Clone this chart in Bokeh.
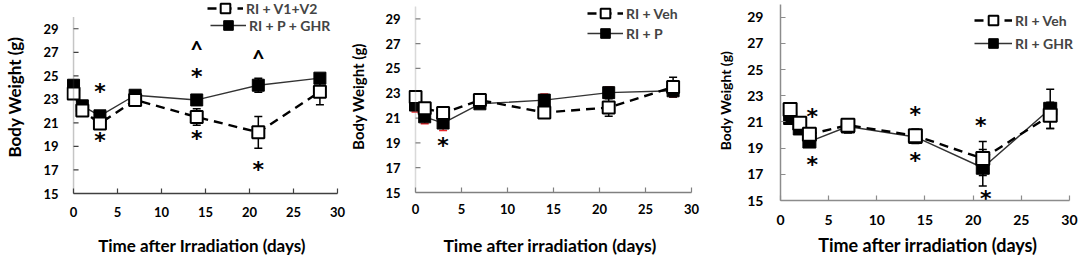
from bokeh.plotting import figure
from bokeh.models import (Range1d, FixedTicker, Whisker, TeeHead, ColumnDataSource,
                          Legend, LegendItem, BoxAnnotation)
from bokeh.layouts import row
from bokeh.embed import file_html
from bokeh.resources import INLINE
from bokeh.core.properties import value

FONT = "Lato"

# ---------------- data ----------------
x_ticks = [0, 5, 10, 15, 20, 25, 30]
y_ticks = [15, 17, 19, 21, 23, 25, 27, 29]

# Panel A: RI + V1+V2 vs RI + P + GHR
a_days = [0, 1, 3, 7, 14, 21, 28]
a_veh = [23.5, 22.05, 20.95, 22.95, 21.5, 20.2, 23.65]
a_veh_err = [0.3, 0.3, 0.3, 0.3, 0.7, 1.35, 1.1]
a_trt = [24.2, 22.45, 21.6, 23.35, 22.95, 24.2, 24.8]
a_trt_err = [0.3, 0.3, 0.3, 0.3, 0.3, 0.6, 0.2]
a_sig_x = [3, 3, 14, 14, 14, 21, 21]
a_sig_y = [23.7, 19.5, 27.2, 24.9, 19.7, 26.5, 17.0]
a_sig_t = ["*", "*", "^", "*", "*", "^", "*"]

# Panel B: RI + Veh vs RI + P
b_days = [0, 1, 3, 7, 14, 21, 28]
b_veh = [22.7, 21.8, 21.4, 22.45, 21.45, 21.85, 23.5]
b_veh_err = [0.3, 0.3, 0.3, 0.25, 0.3, 0.7, 0.8]
b_trt = [22.05, 21.1, 20.6, 22.15, 22.45, 23.05, 23.2]
b_trt_err = [0.55, 0.55, 0.6, 0.35, 0.5, 0.45, 0.5]
b_sig_x = [3]
b_sig_y = [18.8]
b_sig_t = ["*"]

# Panel C: RI + Veh vs RI + GHR
c_days = [1, 2, 3, 7, 14, 21, 28]
c_veh = [21.95, 20.9, 20.05, 20.75, 19.95, 18.2, 21.5]
c_veh_err = [0.4, 0.35, 0.3, 0.5, 0.5, 1.3, 1.0]
c_trt = [21.3, 20.5, 19.5, 20.65, 19.85, 17.5, 22.0]
c_trt_err = [0.3, 0.3, 0.3, 0.5, 0.5, 1.4, 1.5]
c_sig_x = [3.3, 3.3, 14, 14, 20.8, 21.3]
c_sig_y = [21.4, 17.75, 21.6, 18.05, 20.7, 15.15]
c_sig_t = ["*", "*", "*", "*", "*", "*"]


def style_axis(ax, cfg):
    ax.axis_line_color = cfg["axis_color"]
    ax.axis_line_width = 1.5
    ax.major_tick_line_color = cfg["axis_color"]
    ax.major_tick_line_width = 1.2
    ax.major_tick_in = 5
    ax.major_tick_out = 0
    ax.minor_tick_line_color = None
    ax.major_label_text_font = FONT
    ax.major_label_text_font_style = "bold"
    ax.major_label_text_color = "black"
    ax.major_label_text_font_size = cfg["tick_fs"]
    ax.axis_label_text_font = FONT
    ax.axis_label_text_font_style = "bold"
    ax.axis_label_text_color = "black"


def make_panel(cfg):
    p = figure(width=cfg["width"], height=258,
               x_range=Range1d(cfg["xleft"], cfg["xright"]),
               y_range=Range1d(15, cfg["ytop"]),
               output_backend="svg", toolbar_location=None,
               min_border_left=cfg["bl"], min_border_right=cfg["br"],
               min_border_top=0, min_border_bottom=cfg["bb"])
    p.frame_align = False
    p.outline_line_color = None
    p.xgrid.visible = False
    p.ygrid.visible = False
    p.background_fill_color = "white"
    p.border_fill_color = "white"

    style_axis(p.xaxis[0], cfg)
    style_axis(p.yaxis[0], cfg)
    p.yaxis.bounds = (15, 30)
    p.xaxis.bounds = (0, 30)
    p.xaxis.ticker = FixedTicker(ticks=x_ticks)
    p.yaxis.ticker = FixedTicker(ticks=y_ticks)
    p.xaxis.axis_label = cfg["xlabel"]
    p.xaxis.axis_label_text_font_size = cfg["xlab_fs"]
    p.xaxis.major_label_standoff = cfg["x_so"]
    p.xaxis.axis_label_standoff = cfg["x_lso"]
    p.yaxis.axis_label = "Body Weight (g)"
    p.yaxis.axis_label_text_font_size = cfg["ylab_fs"]
    p.yaxis.major_label_standoff = cfg["y_so"]
    p.yaxis.axis_label_standoff = cfg["y_lso"]

    if cfg["xleft"] < 0:
        # frame starts a little left of day 0 so the day-0 markers are whole;
        # the y axis line and its inward ticks are drawn at day 0
        p.yaxis.axis_line_color = None
        p.yaxis.major_tick_line_color = None
        p.add_layout(BoxAnnotation(left=0, right=0, bottom=15, top=30,
                                   fill_alpha=0, line_color=cfg["axis_color"],
                                   line_width=1.5))
        tick_src = ColumnDataSource(dict(y=y_ticks, x0=[0] * len(y_ticks),
                                         x1=[cfg["tick_len"]] * len(y_ticks)))
        p.add_layout(Whisker(base="y", lower="x0", upper="x1", dimension="width",
                             source=tick_src, line_color=cfg["axis_color"],
                             line_width=1.2, upper_head=None, lower_head=None))

    src_v = ColumnDataSource(dict(x=cfg["days"], y=cfg["veh"],
                                  lo=[v - e for v, e in zip(cfg["veh"], cfg["veh_err"])],
                                  hi=[v + e for v, e in zip(cfg["veh"], cfg["veh_err"])]))
    src_t = ColumnDataSource(dict(x=cfg["days"], y=cfg["trt"],
                                  lo=[v - e for v, e in zip(cfg["trt"], cfg["trt_err"])],
                                  hi=[v + e for v, e in zip(cfg["trt"], cfg["trt_err"])]))

    ms = cfg["msize"]
    lt = p.line("x", "y", source=src_t, line_color="#333333", line_width=1.4)
    wt = Whisker(base="x", lower="lo", upper="hi", source=src_t,
                 line_color=cfg["trt_err_color"], line_width=1.5,
                 upper_head=TeeHead(size=8, line_color=cfg["trt_err_color"], line_width=1.5),
                 lower_head=TeeHead(size=8, line_color=cfg["trt_err_color"], line_width=1.5))
    p.add_layout(wt)
    lv = p.line("x", "y", source=src_v, line_color="black", line_width=2.4,
                line_dash="9 6")
    wv = Whisker(base="x", lower="lo", upper="hi", source=src_v,
                 line_color="black", line_width=1.5,
                 upper_head=TeeHead(size=8, line_color="black", line_width=1.5),
                 lower_head=TeeHead(size=8, line_color="black", line_width=1.5))
    p.add_layout(wv)
    st = p.scatter("x", "y", source=src_t, marker="square", size=ms,
                   fill_color="black", line_color="black", line_width=1)
    sv = p.scatter("x", "y", source=src_v, marker="square", size=ms,
                   fill_color="white", line_color="black", line_width=2)

    stars = [(x, y, t) for x, y, t in zip(cfg["sig_x"], cfg["sig_y"], cfg["sig_t"]) if t == "*"]
    carets = [(x, y, t) for x, y, t in zip(cfg["sig_x"], cfg["sig_y"], cfg["sig_t"]) if t != "*"]
    for items, font, fs in ((stars, "DejaVu Sans", "22px"), (carets, FONT, "22px")):
        if not items:
            continue
        sig = ColumnDataSource(dict(x=[i[0] for i in items], y=[i[1] for i in items],
                                    t=[i[2] for i in items]))
        p.text("x", "y", text="t", source=sig, text_font=value(font),
               text_font_style="bold", text_font_size=fs,
               text_align="center", text_baseline="middle", text_color="black")

    for label, rends, (vx, vy) in ((cfg["veh_label"], [lv, sv], cfg["leg1"]),
                                   (cfg["trt_label"], [lt, st], cfg["leg2"])):
        lg = Legend(items=[LegendItem(label=label, renderers=rends)],
                    location=(vx, vy), glyph_width=cfg["gw"], glyph_height=24,
                    label_height=24, padding=0, margin=0, spacing=0,
                    border_line_color=None, background_fill_alpha=0,
                    label_text_font=FONT, label_text_font_style="bold",
                    label_text_font_size=cfg["leg_fs"], label_standoff=3)
        p.add_layout(lg)
    return p


# panel A: frame x 66..337 (x=0 at 73, x=30 at 337), y=30 at 15.4, y=15 at 194
pa = make_panel(dict(
    width=346, bl=66, br=9, bb=64, xleft=-0.8, xright=30, ytop=31.40, tick_len=0.57,
    axis_color="#404040",
    tick_fs="13px", xlab_fs="17px", ylab_fs="17px",
    x_so=13, x_lso=15, y_so=8, y_lso=15,
    xlabel="Time after Irradiation (days)",
    days=a_days, veh=a_veh, veh_err=a_veh_err, trt=a_trt, trt_err=a_trt_err,
    trt_err_color="black", msize=12,
    sig_x=a_sig_x, sig_y=a_sig_y, sig_t=a_sig_t,
    veh_label="RI + V1+V2", trt_label="RI + P + GHR",
    leg1=(141, 194 - 9 - 12), leg2=(144, 194 - 26 - 12), gw=36, leg_fs="14px"))

# panel B: figure starts at 346; frame x 408..691 (x=0 at 415), y=30 at 5.9, y=15 at 192
pb = make_panel(dict(
    width=366, bl=62, br=21, bb=66, xleft=-0.761, xright=30, ytop=30.48, tick_len=0.54,
    axis_color="#808080",
    tick_fs="13px", xlab_fs="17.5px", ylab_fs="15px",
    x_so=11, x_lso=18, y_so=8, y_lso=15,
    xlabel="Time after irradiation (days)",
    days=b_days, veh=b_veh, veh_err=b_veh_err, trt=b_trt, trt_err=b_trt_err,
    trt_err_color="#e8262a", msize=12,
    sig_x=b_sig_x, sig_y=b_sig_y, sig_t=b_sig_t,
    veh_label="RI + Veh", trt_label="RI + P",
    leg1=(179, 192 - 13 - 12), leg2=(179, 192 - 33 - 12), gw=36, leg_fs="14px"))

# panel C: figure starts at 712; frame x 780..1079 (x=30 at 1069), y=30 at 3.6, y=15 at 200
pc = make_panel(dict(
    width=367, bl=68, br=0, bb=58, xleft=0, xright=31.04, ytop=30.27, tick_len=0.5,
    axis_color="#8c8c8c",
    tick_fs="14px", xlab_fs="18px", ylab_fs="14px",
    x_so=14, x_lso=6, y_so=17, y_lso=10,
    xlabel="Time after irradiation  (days)",
    days=c_days, veh=c_veh, veh_err=c_veh_err, trt=c_trt, trt_err=c_trt_err,
    trt_err_color="black", msize=13,
    sig_x=c_sig_x, sig_y=c_sig_y, sig_t=c_sig_t,
    veh_label="RI + Veh", trt_label="RI + GHR",
    leg1=(194, 200 - 20 - 12), leg2=(194, 200 - 43 - 12), gw=38, leg_fs="14px"))

layout = row(pa, pb, pc, spacing=0)
open("out.html", "w").write(file_html(layout, INLINE))
